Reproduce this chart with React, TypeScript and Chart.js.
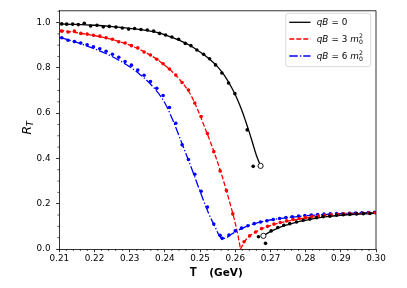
import React, { useEffect, useRef } from "react";
import { Chart, registerables } from "chart.js";
Chart.register(...registerables);

// ---------- data ----------
const xTickValues = [0.21, 0.22, 0.23, 0.24, 0.25, 0.26, 0.27, 0.28, 0.29, 0.30];
const yTickValues = [0.0, 0.2, 0.4, 0.6, 0.8, 1.0];

// qB = 0 (black) fitted curve, upper branch
const blackUpperLineT = [0.210, 0.215, 0.220, 0.225, 0.230, 0.235, 0.238, 0.241, 0.244, 0.247, 0.250, 0.2525, 0.255, 0.257, 0.259, 0.2605, 0.262, 0.263, 0.264, 0.265, 0.266, 0.2672];
const blackUpperLineR = [0.994, 0.992, 0.988, 0.982, 0.974, 0.964, 0.955, 0.940, 0.922, 0.900, 0.870, 0.841, 0.804, 0.765, 0.712, 0.665, 0.607, 0.562, 0.515, 0.465, 0.414, 0.367];
// lower branch
const blackLowerLineT = [0.2680, 0.2690, 0.2700, 0.2715, 0.2730, 0.2750, 0.2775, 0.2800, 0.2830, 0.2860, 0.2900, 0.2950, 0.3000];
const blackLowerLineR = [0.058, 0.068, 0.077, 0.088, 0.098, 0.108, 0.119, 0.127, 0.136, 0.143, 0.149, 0.154, 0.158];
// data points
const blackDotsT = [0.2107, 0.2121, 0.2138, 0.2154, 0.2171, 0.2189, 0.2207, 0.2225, 0.2242, 0.2261, 0.2279, 0.2297, 0.2314, 0.2332, 0.2350, 0.2368, 0.2385, 0.2402, 0.2420, 0.2439, 0.2458, 0.2474, 0.2491, 0.2510, 0.2527, 0.2544, 0.2562, 0.2581, 0.2599, 0.2634, 0.2651,
  0.2666, 0.2686, 0.2702, 0.2721, 0.2738, 0.2755, 0.2774, 0.2793, 0.2812, 0.2831, 0.2850, 0.2869, 0.2888, 0.2907, 0.2926, 0.2945, 0.2964, 0.2983];
const blackDotsR = [0.994, 0.993, 0.993, 0.991, 0.997, 0.985, 0.988, 0.981, 0.983, 0.980, 0.976, 0.971, 0.974, 0.969, 0.967, 0.962, 0.952, 0.945, 0.936, 0.926, 0.908, 0.898, 0.879, 0.860, 0.840, 0.813, 0.777, 0.733, 0.686, 0.526, 0.365,
  0.054, 0.025, 0.080, 0.095, 0.105, 0.112, 0.119, 0.127, 0.132, 0.138, 0.143, 0.145, 0.149, 0.151, 0.153, 0.155, 0.156, 0.157];
// open circles at the branch ends
const blackEndsT = [0.2672, 0.2680];
const blackEndsR = [0.367, 0.058];

// qB = 3 m0^2 (red)
const redUpperLineT = [0.210, 0.215, 0.220, 0.225, 0.230, 0.234, 0.238, 0.241, 0.244, 0.247, 0.2485, 0.250, 0.2515, 0.253, 0.2545, 0.2565, 0.258, 0.2595, 0.2605, 0.2615];
const redUpperLineR = [0.966, 0.955, 0.942, 0.925, 0.900, 0.872, 0.835, 0.798, 0.752, 0.690, 0.645, 0.590, 0.530, 0.470, 0.405, 0.310, 0.230, 0.145, 0.080, 0.000];
const redLowerLineT = [0.2615, 0.2622, 0.2630, 0.2640, 0.2655, 0.2670, 0.2690, 0.2710, 0.2740, 0.2770, 0.2800, 0.2840, 0.2880, 0.2920, 0.2960, 0.3000];
const redLowerLineR = [0.000, 0.020, 0.040, 0.056, 0.072, 0.085, 0.098, 0.108, 0.120, 0.129, 0.137, 0.145, 0.150, 0.154, 0.157, 0.160];
const redDotsT = [0.2107, 0.2125, 0.2143, 0.2161, 0.2179, 0.2197, 0.2215, 0.2233, 0.2251, 0.2269, 0.2287, 0.2305, 0.2323, 0.2341, 0.2359, 0.2377, 0.2395, 0.2413, 0.2431, 0.2449, 0.2467, 0.2485, 0.2503, 0.2521, 0.2539, 0.2557, 0.2575, 0.2593,
  0.2625, 0.2641, 0.2658, 0.2675, 0.2692, 0.2710, 0.2728, 0.2746, 0.2764, 0.2782, 0.2800, 0.2818, 0.2836, 0.2854, 0.2872, 0.2890, 0.2908, 0.2926, 0.2944, 0.2962, 0.2980, 0.2998];
const redDotsR = [0.962, 0.958, 0.962, 0.952, 0.949, 0.944, 0.940, 0.933, 0.926, 0.915, 0.910, 0.898, 0.888, 0.870, 0.857, 0.838, 0.818, 0.795, 0.768, 0.735, 0.702, 0.645, 0.585, 0.510, 0.430, 0.345, 0.258, 0.155,
  0.032, 0.058, 0.075, 0.090, 0.100, 0.110, 0.117, 0.124, 0.130, 0.135, 0.139, 0.143, 0.146, 0.149, 0.151, 0.153, 0.155, 0.156, 0.157, 0.158, 0.159, 0.160];

// qB = 6 m0^2 (blue)
const blueLineT = [0.210, 0.215, 0.220, 0.225, 0.229, 0.233, 0.237, 0.240, 0.2425, 0.245, 0.2475, 0.250, 0.2525, 0.2545, 0.2555, 0.2565, 0.2575, 0.2590, 0.2610, 0.2635, 0.2660, 0.2690, 0.2730, 0.2770, 0.2810, 0.2850, 0.2900, 0.2950, 0.3000];
const blueLineR = [0.935, 0.912, 0.884, 0.850, 0.815, 0.770, 0.710, 0.645, 0.560, 0.460, 0.360, 0.255, 0.155, 0.090, 0.058, 0.047, 0.050, 0.066, 0.084, 0.102, 0.114, 0.125, 0.135, 0.142, 0.148, 0.152, 0.156, 0.159, 0.162];
const blueDotsT = [0.2107, 0.2125, 0.2143, 0.2161, 0.2179, 0.2197, 0.2215, 0.2233, 0.2251, 0.2269, 0.2287, 0.2305, 0.2323, 0.2341, 0.2359, 0.2377, 0.2395, 0.2413, 0.2431, 0.2449, 0.2467, 0.2485, 0.2503, 0.2521, 0.2539, 0.2557,
  0.2563, 0.2582, 0.2600, 0.2618, 0.2636, 0.2654, 0.2672, 0.2690, 0.2708, 0.2726, 0.2744, 0.2762, 0.2780, 0.2798, 0.2816, 0.2834, 0.2852, 0.2870, 0.2888, 0.2906, 0.2924, 0.2942, 0.2960, 0.2978, 0.2996];
const blueDotsR = [0.933, 0.922, 0.916, 0.910, 0.902, 0.893, 0.884, 0.873, 0.860, 0.847, 0.828, 0.812, 0.790, 0.767, 0.740, 0.710, 0.678, 0.625, 0.555, 0.460, 0.395, 0.330, 0.255, 0.185, 0.110, 0.060,
  0.047, 0.062, 0.080, 0.092, 0.103, 0.112, 0.119, 0.125, 0.130, 0.135, 0.139, 0.142, 0.145, 0.148, 0.150, 0.152, 0.154, 0.155, 0.156, 0.157, 0.158, 0.159, 0.160, 0.161, 0.162];

const legendLabels = ["qB = 0", "qB = 3 m0^2", "qB = 6 m0^2"];

// ---------- helpers ----------
const pts = (t: number[], r: number[]) => t.map((x, i) => ({ x, y: r[i] }));
const FONT = "'DejaVu Sans', sans-serif";
const RED = "#ff0000";
const BLUE = "#0000ff";
const BLACK = "#000000";
const DASH = [4.9, 2.1];
const DASHDOT = [8.5, 2.1, 1.3, 2.1];

function lineDs(data: any[], color: string, dash: number[]) {
  return {
    data, showLine: true, borderColor: color, borderWidth: 1.3, borderDash: dash,
    pointRadius: 0, pointHoverRadius: 0, cubicInterpolationMode: "monotone", fill: false,
  };
}
function dotDs(data: any[], color: string) {
  return {
    data, showLine: false, backgroundColor: color, borderColor: color, borderWidth: 0,
    pointRadius: 1.8, pointHoverRadius: 1.8,
  };
}

const decorPlugin = {
  id: "decor",
  afterDraw(chart: any) {
    const ctx = chart.ctx as CanvasRenderingContext2D;
    const xs = chart.scales.x;
    const ys = chart.scales.y;
    const { left, right, top, bottom } = chart.chartArea;
    ctx.save();
    // frame top/right
    ctx.strokeStyle = "#000";
    ctx.lineWidth = 0.8;
    ctx.beginPath();
    ctx.moveTo(left, top); ctx.lineTo(right, top); ctx.lineTo(right, bottom);
    ctx.stroke();
    // minor ticks
    ctx.lineWidth = 0.6;
    ctx.beginPath();
    for (let i = 0; i <= 45; i++) {
      if (i % 5 === 0) continue;
      const px = xs.getPixelForValue(0.21 + i * 0.002);
      ctx.moveTo(px, bottom); ctx.lineTo(px, bottom + 2);
    }
    for (let i = 1; i <= 21; i++) {
      if (i % 4 === 0) continue;
      const py = ys.getPixelForValue(i * 0.05);
      if (py < top - 0.5) continue;
      ctx.moveTo(left, py); ctx.lineTo(left - 2, py);
    }
    ctx.stroke();

    // y title R_T
    ctx.fillStyle = "#000";
    ctx.save();
    ctx.translate(30.7, 127.5);
    ctx.rotate(-Math.PI / 2);
    ctx.textBaseline = "alphabetic";
    ctx.textAlign = "left";
    ctx.font = `italic 12.4px ${FONT}`;
    const wR = ctx.measureText("R").width;
    ctx.font = `italic 8.7px ${FONT}`;
    const wT = ctx.measureText("T").width;
    const x0 = -(wR + wT) / 2;
    ctx.font = `italic 12.4px ${FONT}`;
    ctx.fillText("R", x0, 0);
    ctx.font = `italic 8.7px ${FONT}`;
    ctx.fillText("T", x0 + wR - 0.5, 2.6);
    ctx.restore();

    // x title
    ctx.textBaseline = "alphabetic";
    ctx.textAlign = "left";
    ctx.font = `bold 12.5px 'Liberation Mono', monospace`;
    ctx.fillText("T", 189.5, 275.7);
    ctx.font = `bold 10.5px ${FONT}`;
    ctx.fillText("(GeV)", 209.3, 275.5);

    // legend
    const bx = 285.7, by = 13.3, bw = 85, bh = 53.4, rr = 2.5;
    ctx.beginPath();
    ctx.moveTo(bx + rr, by);
    ctx.arcTo(bx + bw, by, bx + bw, by + bh, rr);
    ctx.arcTo(bx + bw, by + bh, bx, by + bh, rr);
    ctx.arcTo(bx, by + bh, bx, by, rr);
    ctx.arcTo(bx, by, bx + bw, by, rr);
    ctx.closePath();
    ctx.fillStyle = "rgba(255,255,255,0.8)";
    ctx.fill();
    ctx.strokeStyle = "#d0d0d0";
    ctx.lineWidth = 0.8;
    ctx.stroke();

    const rows = [22.3, 39.0, 56.0];
    const colors = [BLACK, RED, BLUE];
    const dashes = [[], DASH, DASHDOT];
    rows.forEach((ry, i) => {
      ctx.save();
      ctx.strokeStyle = colors[i];
      ctx.lineWidth = 1.3;
      ctx.setLineDash(dashes[i]);
      ctx.beginPath();
      ctx.moveTo(289.3, ry); ctx.lineTo(310.5, ry);
      ctx.stroke();
      ctx.restore();
    });
    const fs = 8.8;
    const base = (ry: number) => ry + 3.1;
    const drawRow = (ry: number, label: string) => {
      ctx.fillStyle = "#000";
      let x = 316.7;
      const b = base(ry);
      ctx.font = `italic ${fs}px ${FONT}`;
      ctx.fillText("qB", x, b); x += ctx.measureText("qB").width;
      ctx.font = `${fs}px ${FONT}`;
      const eq = label.includes("m") ? ` = ${label.charAt(5)} ` : " = 0";
      ctx.fillText(eq, x + 0.5, b); x += ctx.measureText(eq).width + 0.5;
      if (label.includes("m")) {
        ctx.font = `italic ${fs}px ${FONT}`;
        ctx.fillText("m", x, b); x += ctx.measureText("m").width;
        ctx.font = `${fs * 0.7}px ${FONT}`;
        ctx.fillText("0", x + 0.3, b + 2.2);
        ctx.fillText("2", x + 0.3, b - 4.0);
      }
    };
    drawRow(rows[0], legendLabels[0]);
    drawRow(rows[1], legendLabels[1]);
    drawRow(rows[2], legendLabels[2]);
    ctx.restore();
  },
};

export default function App() {
  const ref = useRef<HTMLCanvasElement>(null);
  useEffect(() => {
    const canvas = ref.current!;
    const chart = new Chart(canvas, {
      type: "scatter",
      data: {
        datasets: [
          dotDs(pts(blackDotsT, blackDotsR), BLACK),
          dotDs(pts(redDotsT, redDotsR), RED),
          dotDs(pts(blueDotsT, blueDotsR), BLUE),
          {
            data: pts(blackEndsT, blackEndsR), showLine: false, backgroundColor: "#ffffff",
            borderColor: BLACK, borderWidth: 0.9, pointRadius: 2.6, pointHoverRadius: 2.6,
          },
          lineDs(pts(blackUpperLineT, blackUpperLineR), BLACK, []),
          lineDs(pts(blackLowerLineT, blackLowerLineR), BLACK, []),
          lineDs(pts(redUpperLineT, redUpperLineR), RED, DASH),
          lineDs(pts(redLowerLineT, redLowerLineR), RED, DASH),
          lineDs(pts(blueLineT, blueLineR), BLUE, DASHDOT),
        ] as any,
      },
      options: {
        animation: false,
        responsive: false,
        devicePixelRatio: 1,
        layout: { padding: { left: 0, top: 9, right: 31, bottom: 0 } },
        plugins: { legend: { display: false }, tooltip: { enabled: false } },
        events: [],
        scales: {
          x: {
            type: "linear",
            min: 0.21,
            max: 0.30,
            afterBuildTicks: (axis: any) => {
              axis.ticks = xTickValues.map((v) => ({ value: v }));
            },
            afterFit: (s: any) => { s.height = 39; },
            ticks: {
              callback: (v: any) => Number(v).toFixed(2),
              font: { family: FONT, size: 8.8 },
              color: "#000",
              padding: 1.5,
              maxRotation: 0,
              autoSkip: false,
            },
            grid: { display: true, drawOnChartArea: false, drawTicks: true, tickLength: 3.2, tickWidth: 0.8, tickColor: "#000" },
            border: { display: true, color: "#000", width: 0.8 },
          },
          y: {
            type: "linear",
            min: 0,
            max: 1.052,
            afterBuildTicks: (axis: any) => {
              axis.ticks = yTickValues.map((v) => ({ value: v }));
            },
            afterFit: (s: any) => { s.width = 59.3; },
            ticks: {
              callback: (v: any) => Number(v).toFixed(1),
              font: { family: FONT, size: 8.8 },
              color: "#000",
              padding: 5.5,
              autoSkip: false,
            },
            grid: { display: true, drawOnChartArea: false, drawTicks: true, tickLength: 3.2, tickWidth: 0.8, tickColor: "#000" },
            border: { display: true, color: "#000", width: 0.8 },
          },
        },
      },
      plugins: [decorPlugin],
    } as any);
    return () => chart.destroy();
  }, []);
  return (
    <div style={{ position: "absolute", left: 0, top: 0, width: 407, height: 288, background: "#fff" }}>
      <canvas ref={ref} width={407} height={288} style={{ display: "block", width: 407, height: 288 }} />
    </div>
  );
}
